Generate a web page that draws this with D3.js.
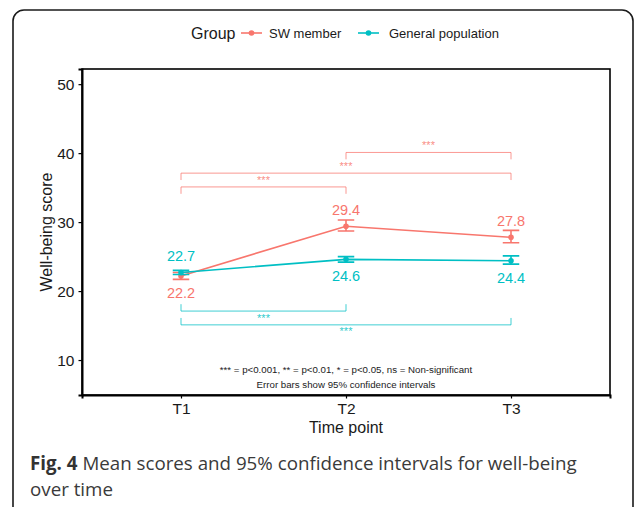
<!DOCTYPE html>
<html>
<head>
<meta charset="utf-8">
<script src="https://cdn.jsdelivr.net/npm/d3@7.9.0/dist/d3.min.js"></script>
<style>
  body { margin: 0; background: #fff; }
  svg text { font-family: "Liberation Sans", Arimo, Arial, sans-serif; }
</style>
</head>
<body>
<svg id="chart" width="634" height="507"></svg>
<script>
// values
const timePoints = ["T1", "T2", "T3"];
const groups = ["SW member", "General population"];
const swMean = [22.2, 29.4, 27.8];
const swLow  = [21.7, 28.7, 27.0];
const swHigh = [22.7, 30.3, 28.8];
const genMean = [22.7, 24.6, 24.4];
const genLow  = [22.4, 24.2, 23.9];
const genHigh = [23.0, 25.0, 25.1];
const yTicks = [10, 20, 30, 40, 50];

// significance brackets (level in score units)
const swBrackets = [
  { from: "T2", to: "T3", level: 40.1, label: "***" },
  { from: "T1", to: "T3", level: 37.1, label: "***" },
  { from: "T1", to: "T2", level: 35.1, label: "***" }
];
const genBrackets = [
  { from: "T1", to: "T2", level: 17.1, label: "***" },
  { from: "T1", to: "T3", level: 15.1, label: "***" }
];

const notes = [
  "*** = p<0.001, ** = p<0.01, * = p<0.05, ns = Non-significant",
  "Error bars show 95% confidence intervals"
];
const captionBold = "Fig. 4";
const captionRest = " Mean scores and 95% confidence intervals for well-being";
const captionLine2 = "over time";

const colors = { "SW member": "#F8766D", "General population": "#00BFC4" };
const ink = "#1a1a1a";

const svg = d3.select("#chart");

// outer rounded frame, runs off the bottom
svg.append("rect")
  .attr("x", 13).attr("y", 10)
  .attr("width", 620).attr("height", 540)
  .attr("rx", 11)
  .attr("fill", "none")
  .attr("stroke", ink)
  .attr("stroke-width", 1.6);

const panel = { left: 82, right: 610, top: 69, bottom: 395 };

const x = d3.scalePoint()
  .domain(timePoints)
  .range([panel.left, panel.right])
  .padding(0.6);

const y = d3.scaleLinear()
  .domain([4.93, 52.2])
  .range([panel.bottom, panel.top]);

const g = svg.append("g");

// panel border
g.append("rect")
  .attr("x", panel.left).attr("y", panel.top)
  .attr("width", panel.right - panel.left)
  .attr("height", panel.bottom - panel.top)
  .attr("fill", "none")
  .attr("stroke", "#000")
  .attr("stroke-width", 1.6);

// axes
const yAxis = g.append("g")
  .attr("transform", `translate(${panel.left},0)`)
  .call(d3.axisLeft(y).tickValues(yTicks).tickSize(3.5).tickPadding(4));
yAxis.attr("font-family", null);
yAxis.select(".domain").attr("stroke-width", 2);
yAxis.selectAll("text").style("font-size", "15.5px").attr("fill", ink);
yAxis.selectAll("line").attr("stroke-width", 1.2);

const xAxis = g.append("g")
  .attr("transform", `translate(0,${panel.bottom})`)
  .call(d3.axisBottom(x).tickSize(3.5).tickPadding(4));
xAxis.attr("font-family", null);
xAxis.select(".domain").attr("stroke-width", 2);
xAxis.selectAll("text").style("font-size", "15.5px").attr("fill", ink);
xAxis.selectAll("line").attr("stroke-width", 1.2);

// axis titles
g.append("text")
  .attr("x", (panel.left + panel.right) / 2)
  .attr("y", 433)
  .attr("text-anchor", "middle")
  .style("font-size", "16px")
  .attr("fill", ink)
  .text("Time point");

g.append("text")
  .attr("transform", `translate(52,${(panel.top + panel.bottom) / 2}) rotate(-90)`)
  .attr("text-anchor", "middle")
  .style("font-size", "16px")
  .attr("fill", ink)
  .text("Well-being score");

// brackets
function drawBrackets(list, color, above) {
  const tick = 1.0;
  list.forEach(b => {
    const ly = y(b.level);
    const ty = above ? y(b.level - tick) : y(b.level + tick);
    g.append("path")
      .attr("d", `M${x(b.from)},${ty}V${ly}H${x(b.to)}V${ty}`)
      .attr("fill", "none")
      .attr("stroke", color)
      .attr("stroke-opacity", 0.75)
      .attr("stroke-width", 1);
    g.append("text")
      .attr("x", (x(b.from) + x(b.to)) / 2)
      .attr("y", above ? ly - 3 : ly + 10.5)
      .attr("text-anchor", "middle")
      .style("font-size", "11px")
      .attr("fill", color)
      .attr("fill-opacity", 0.85)
      .text(b.label);
  });
}
drawBrackets(swBrackets, colors["SW member"], true);
drawBrackets(genBrackets, colors["General population"], false);

// series
const series = [
  { name: "SW member", mean: swMean, low: swLow, high: swHigh, other: genMean },
  { name: "General population", mean: genMean, low: genLow, high: genHigh, other: swMean }
];

const capW = x.step() * 0.1;
const line = d3.line().x(d => x(d.t)).y(d => y(d.v));

series.forEach(s => {
  const col = colors[s.name];
  const pts = timePoints.map((t, i) => ({ t, v: s.mean[i], lo: s.low[i], hi: s.high[i], up: s.mean[i] >= s.other[i] }));

  g.append("path")
    .datum(pts)
    .attr("d", line)
    .attr("fill", "none")
    .attr("stroke", col)
    .attr("stroke-width", 1.6);

  g.append("g").selectAll("path")
    .data(pts)
    .enter()
    .append("path")
    .attr("d", d => {
      const cx = x(d.t);
      return `M${cx - capW / 2},${y(d.hi)}H${cx + capW / 2}M${cx},${y(d.hi)}V${y(d.lo)}M${cx - capW / 2},${y(d.lo)}H${cx + capW / 2}`;
    })
    .attr("fill", "none")
    .attr("stroke", col)
    .attr("stroke-width", 1.6);

  g.append("g").selectAll("circle")
    .data(pts)
    .enter()
    .append("circle")
    .attr("cx", d => x(d.t))
    .attr("cy", d => y(d.v))
    .attr("r", 2.8)
    .attr("fill", col);

  // value labels: above for the higher group, below for the lower
  g.append("g").selectAll("text")
    .data(pts)
    .enter()
    .append("text")
    .attr("x", d => x(d.t))
    .attr("y", d => d.up ? y(d.v) - 11 : y(d.v) + 22)
    .attr("text-anchor", "middle")
    .style("font-size", "14.5px")
    .attr("fill", col)
    .text(d => d.v.toFixed(1));
});

// notes inside the panel
notes.forEach((n, i) => {
  g.append("text")
    .attr("x", (panel.left + panel.right) / 2)
    .attr("y", 373 + i * 14.5)
    .attr("text-anchor", "middle")
    .style("font-size", "9.7px")
    .attr("fill", ink)
    .text(n);
});

// legend
const legend = svg.append("g").attr("transform", "translate(0,33)");
legend.append("text")
  .attr("x", 191).attr("y", 5.5)
  .style("font-size", "16px")
  .attr("fill", ink)
  .text("Group");
const keyX = [241, 358];
const textX = [269, 389];
groups.forEach((gr, i) => {
  legend.append("line")
    .attr("x1", keyX[i]).attr("x2", keyX[i] + 21)
    .attr("y1", 0).attr("y2", 0)
    .attr("stroke", colors[gr])
    .attr("stroke-width", 1.6);
  legend.append("circle")
    .attr("cx", keyX[i] + 10.5).attr("cy", 0)
    .attr("r", 2.8)
    .attr("fill", colors[gr]);
  legend.append("text")
    .attr("x", textX[i]).attr("y", 4.5)
    .style("font-size", "13px")
    .attr("fill", ink)
    .text(gr);
});

// caption, sized to the width it takes in the figure
const capFont = "'Open Sans', 'Noto Sans', sans-serif";
const cap = svg.append("text")
  .attr("x", 30).attr("y", 470)
  .style("font-family", capFont)
  .style("font-size", "20px")
  .attr("fill", "#333");
cap.append("tspan").attr("font-weight", "bold").text(captionBold);
cap.append("tspan").attr("fill", "#3a3a3a").text(captionRest);
const w = cap.node().getComputedTextLength();
const fs = 20 * 547 / w;
cap.style("font-size", fs + "px");

svg.append("text")
  .attr("x", 30).attr("y", 496)
  .style("font-family", capFont)
  .style("font-size", fs + "px")
  .attr("fill", "#3a3a3a")
  .text(captionLine2);
</script>
</body>
</html>
